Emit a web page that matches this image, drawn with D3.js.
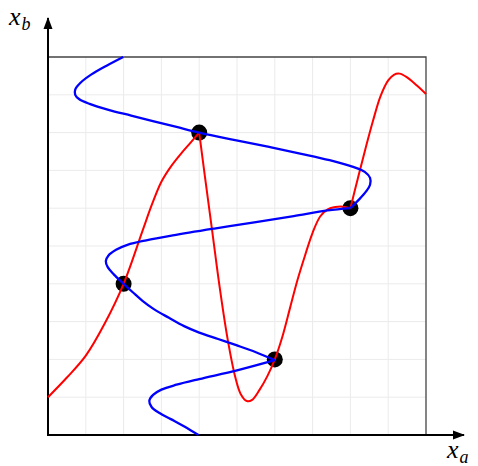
<!DOCTYPE html>
<html>
<head>
<meta charset="utf-8">
<script src="https://cdn.jsdelivr.net/npm/d3@7"></script>
<style>
  html, body { margin: 0; padding: 0; background: #fff; }
  svg { display: block; }
</style>
</head>
<body>
<svg id="chart" width="478" height="466"></svg>
<script>
// Knot points shared by both curves, as [x_a, x_b]
const knots = [[2, 4], [4, 8], [6, 2], [8, 6]];

// Red curve x_b = f(x_a), split at its corners
const redPieceA = [[0, 1.0], [0.5, 1.52], [1.0, 2.1], [1.5, 2.95], [2, 4], [2.5, 5.4], [2.75, 6.1],
  [3.0, 6.7], [3.25, 7.1], [3.5, 7.42], [3.75, 7.71], [4, 8]];
const redPieceB = [[4, 8], [4.15, 6.85], [4.35, 5.35], [4.55, 3.85], [4.75, 2.55], [4.95, 1.55],
  [5.1, 1.08], [5.26, 0.9], [5.4, 0.93], [5.6, 1.2], [5.8, 1.55], [6, 2], [6.2, 2.6], [6.4, 3.35],
  [6.6, 4.1], [6.8, 4.75], [7.0, 5.35], [7.2, 5.78], [7.4, 5.97], [7.6, 6.03], [7.8, 6.04], [8, 6]];
const redPieceC = [[8, 6], [8.2, 6.8], [8.4, 7.58], [8.6, 8.32], [8.8, 8.97], [9.0, 9.38],
  [9.15, 9.53], [9.3, 9.56], [9.5, 9.46], [9.75, 9.25], [10, 9.02]];

// Blue curve x_a = g(x_b), split at its corners
const bluePieceA = [[1.99, 10], [1.55, 9.77], [1.15, 9.54], [0.86, 9.32], [0.72, 9.14], [0.72, 9.0],
  [0.82, 8.89], [1.1, 8.76], [1.6, 8.6], [2.2, 8.45], [2.8, 8.3], [3.4, 8.15], [4, 8], [4.95, 7.8],
  [5.85, 7.62], [6.7, 7.44], [7.45, 7.27], [8.05, 7.1], [8.38, 6.96], [8.52, 6.8], [8.52, 6.62],
  [8.42, 6.45], [8.22, 6.22], [8, 6]];
const bluePieceB = [[8, 6], [7.4, 5.94], [6.5, 5.79], [5.5, 5.63], [4.4, 5.46], [3.3, 5.28],
  [2.6, 5.15], [2.1, 5.03], [1.8, 4.9], [1.6, 4.75], [1.53, 4.6], [1.58, 4.44], [1.74, 4.25], [2, 4],
  [2.25, 3.77], [2.5, 3.55], [2.8, 3.33], [3.2, 3.1], [3.6, 2.88], [4.0, 2.71], [4.5, 2.54],
  [5.0, 2.37], [5.5, 2.19], [6, 1.98]];
const bluePieceC = [[6, 1.98], [5.0, 1.71], [4.0, 1.48], [3.4, 1.33], [3.0, 1.2], [2.78, 1.06],
  [2.68, 0.9], [2.74, 0.74], [2.95, 0.58], [3.25, 0.42], [3.62, 0.22], [3.98, 0]];

const gridTicks = [1, 2, 3, 4, 5, 6, 7, 8, 9];

const svg = d3.select("#chart");
const x = d3.scaleLinear().domain([0, 10]).range([48, 426]);
const y = d3.scaleLinear().domain([0, 10]).range([435, 57]);

// light grid
const grid = svg.append("g").attr("stroke", "#ebebeb").attr("stroke-width", 1);
grid.selectAll("line.v").data(gridTicks).join("line").attr("class", "v")
  .attr("x1", d => x(d)).attr("x2", d => x(d)).attr("y1", y(0)).attr("y2", y(10));
grid.selectAll("line.h").data(gridTicks).join("line").attr("class", "h")
  .attr("y1", d => y(d)).attr("y2", d => y(d)).attr("x1", x(0)).attr("x2", x(10));

// frame on top and right
svg.append("path")
  .attr("d", `M${x(0)},${y(10)}H${x(10)}V${y(0)}`)
  .attr("fill", "none").attr("stroke", "#444").attr("stroke-width", 1.3);

// arrowhead
svg.append("defs").append("marker")
  .attr("id", "arrow").attr("viewBox", "0 0 12 10").attr("refX", 11).attr("refY", 5)
  .attr("markerWidth", 12).attr("markerHeight", 10).attr("markerUnits", "userSpaceOnUse")
  .attr("orient", "auto")
  .append("path").attr("d", "M0,0.5L12,5L0,9.5Z").attr("fill", "#000");

// axes
svg.append("line").attr("x1", x(0)).attr("y1", y(0) + 1).attr("x2", x(0)).attr("y2", 18)
  .attr("stroke", "#000").attr("stroke-width", 2).attr("marker-end", "url(#arrow)");
svg.append("line").attr("x1", x(0) - 1).attr("y1", y(0)).attr("x2", 464).attr("y2", y(0))
  .attr("stroke", "#000").attr("stroke-width", 2).attr("marker-end", "url(#arrow)");

// knot markers
svg.append("g").selectAll("circle").data(knots).join("circle")
  .attr("cx", d => x(d[0])).attr("cy", d => y(d[1])).attr("r", 8).attr("fill", "#000");

const line = d3.line().x(d => x(d[0])).y(d => y(d[1])).curve(d3.curveCatmullRom.alpha(0.5));

svg.append("g").selectAll("path").data([redPieceA, redPieceB, redPieceC]).join("path")
  .attr("d", line).attr("fill", "none").attr("stroke", "#ff0000").attr("stroke-width", 2)
  .attr("stroke-linejoin", "round");
svg.append("g").selectAll("path").data([bluePieceA, bluePieceB, bluePieceC]).join("path")
  .attr("d", line).attr("fill", "none").attr("stroke", "#0000ff").attr("stroke-width", 2.3)
  .attr("stroke-linejoin", "round");

// axis labels
const lab = (px, py, main, sub) => {
  const t = svg.append("text").attr("x", px).attr("y", py)
    .attr("font-family", "'Liberation Serif', 'DejaVu Serif', serif")
    .attr("font-style", "italic").attr("font-size", 26).attr("fill", "#000");
  t.append("tspan").text(main);
  t.append("tspan").attr("font-size", 18).attr("dy", 5).attr("dx", 1).text(sub);
};
lab(9, 25, "x", "b");
lab(447, 458, "x", "a");
</script>
</body>
</html>
